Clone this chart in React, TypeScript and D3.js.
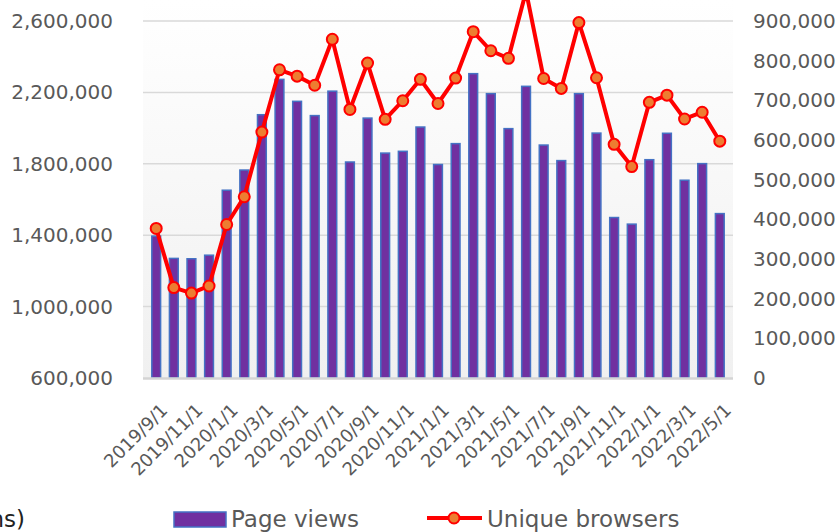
import React, { useRef, useEffect } from "react";
import * as d3 from "d3";

const months = [
  "2019/9/1", "2019/10/1", "2019/11/1", "2019/12/1", "2020/1/1", "2020/2/1",
  "2020/3/1", "2020/4/1", "2020/5/1", "2020/6/1", "2020/7/1", "2020/8/1",
  "2020/9/1", "2020/10/1", "2020/11/1", "2020/12/1", "2021/1/1", "2021/2/1",
  "2021/3/1", "2021/4/1", "2021/5/1", "2021/6/1", "2021/7/1", "2021/8/1",
  "2021/9/1", "2021/10/1", "2021/11/1", "2021/12/1", "2022/1/1", "2022/2/1",
  "2022/3/1", "2022/4/1", "2022/5/1",
];

const pageViews = [
  1395000, 1270000, 1268000, 1288000, 1652000, 1765000, 2075000, 2273000,
  2150000, 2070000, 2207000, 1810000, 2056000, 1860000, 1870000, 2006000,
  1796000, 1913000, 2305000, 2193000, 1997000, 2234000, 1905000, 1818000,
  2193000, 1972000, 1499000, 1462000, 1823000, 1971000, 1708000, 1801000,
  1521000,
];

const uniqueBrowsers = [
  377000, 228000, 214000, 232000, 387000, 457000, 620000, 777000, 761000,
  738000, 854000, 677000, 794000, 652000, 699000, 753000, 692000, 756000,
  873000, 825000, 806000, 975000, 755000, 730000, 896000, 757000, 589000,
  533000, 695000, 713000, 653000, 670000, 597000,
];

const leftTicks = [600000, 1000000, 1400000, 1800000, 2200000, 2600000];
const rightTicks = [0, 100000, 200000, 300000, 400000, 500000, 600000, 700000, 800000, 900000];

const FONT = "'DejaVu Sans', Verdana, sans-serif";
const TEXT = "#595959";

export default function App() {
  const svgRef = useRef<SVGSVGElement | null>(null);

  useEffect(() => {
    const svg = svgRef.current;
    if (!svg) return;
    const W = 840;
    const H = 532;
    const M = { l: 143, r: 733, t: 21, b: 378 };

    const sel = d3.select(svg);
    sel.selectAll("*").remove();

    const x = d3.scaleBand<string>().domain(months).range([M.l, M.r]).padding(0.5);
    const yL = d3.scaleLinear().domain([600000, 2600000]).range([M.b, M.t]);
    const yR = d3.scaleLinear().domain([0, 900000]).range([M.b, M.t]);

    const defs = sel.append("defs");
    const grad = defs
      .append("linearGradient")
      .attr("id", "bg")
      .attr("x1", 0)
      .attr("y1", 0)
      .attr("x2", 0)
      .attr("y2", 1);
    grad.append("stop").attr("offset", "0%").attr("stop-color", "#ffffff");
    grad.append("stop").attr("offset", "100%").attr("stop-color", "#f0f0f0");

    sel.append("rect").attr("width", W).attr("height", H).attr("fill", "#fff");
    sel
      .append("rect")
      .attr("x", M.l)
      .attr("y", 0)
      .attr("width", M.r - M.l)
      .attr("height", M.b)
      .attr("fill", "url(#bg)");

    // gridlines
    sel
      .append("g")
      .selectAll("line")
      .data(leftTicks.slice(1))
      .enter()
      .append("line")
      .attr("x1", M.l)
      .attr("x2", M.r)
      .attr("y1", (d) => yL(d))
      .attr("y2", (d) => yL(d))
      .attr("stroke", "#d9d9d9")
      .attr("stroke-width", 1.5);

    const la = sel
      .append("g")
      .attr("transform", `translate(${M.l},0)`)
      .call(d3.axisLeft(yL).tickValues(leftTicks).tickSize(0).tickPadding(30).tickFormat(d3.format(",") as any));
    la.select(".domain").remove();
    la.selectAll("text").attr("fill", TEXT).attr("font-size", 20).attr("font-family", FONT);

    const ra = sel
      .append("g")
      .attr("transform", `translate(${M.r},0)`)
      .call(d3.axisRight(yR).tickValues(rightTicks).tickSize(0).tickPadding(20).tickFormat(d3.format(",") as any));
    ra.select(".domain").remove();
    ra.selectAll("text").attr("fill", TEXT).attr("font-size", 20).attr("font-family", FONT);

    // bars
    sel
      .append("g")
      .selectAll("rect")
      .data(pageViews)
      .enter()
      .append("rect")
      .attr("x", (_, i) => x(months[i])!)
      .attr("y", (d) => yL(d))
      .attr("width", x.bandwidth())
      .attr("height", (d) => M.b - yL(d))
      .attr("fill", "#7030a0")
      .attr("stroke", "#4472c4")
      .attr("stroke-width", 1.5);

    // axis line
    sel
      .append("line")
      .attr("x1", M.l)
      .attr("x2", M.r)
      .attr("y1", M.b + 0.5)
      .attr("y2", M.b + 0.5)
      .attr("stroke", "#d4d4d4")
      .attr("stroke-width", 2.5);

    // x labels, every second month
    sel
      .append("g")
      .selectAll("text")
      .data(months.filter((_, i) => i % 2 === 0))
      .enter()
      .append("text")
      .attr("transform", (d) => `translate(${x(d)! + x.bandwidth() / 2 + 8},407) rotate(-45)`)
      .attr("text-anchor", "end")
      .attr("dy", "0.35em")
      .attr("fill", TEXT)
      .attr("font-size", 18)
      .attr("font-family", FONT)
      .text((d) => d);

    // line
    const cx = (i: number) => x(months[i])! + x.bandwidth() / 2;
    const line = d3
      .line<number>()
      .x((_, i) => cx(i))
      .y((d) => yR(d));
    sel
      .append("path")
      .datum(uniqueBrowsers)
      .attr("d", line)
      .attr("fill", "none")
      .attr("stroke", "#ff0000")
      .attr("stroke-width", 4)
      .attr("stroke-linejoin", "round");
    sel
      .append("g")
      .selectAll("circle")
      .data(uniqueBrowsers)
      .enter()
      .append("circle")
      .attr("cx", (_, i) => cx(i))
      .attr("cy", (d) => yR(d))
      .attr("r", 5.5)
      .attr("fill", "#ed7d31")
      .attr("stroke", "#ff0000")
      .attr("stroke-width", 2);

    // legend
    const lg = sel.append("g").attr("font-family", FONT).attr("font-size", 23);
    lg.append("text").attr("x", 25).attr("y", 527).attr("text-anchor", "end").attr("fill", "#222").text("(millions)");
    lg.append("rect")
      .attr("x", 174)
      .attr("y", 512)
      .attr("width", 52)
      .attr("height", 15)
      .attr("fill", "#7030a0")
      .attr("stroke", "#4472c4")
      .attr("stroke-width", 1.5);
    lg.append("text").attr("x", 231).attr("y", 527).attr("fill", TEXT).text("Page views");
    lg.append("line")
      .attr("x1", 427)
      .attr("x2", 482)
      .attr("y1", 518)
      .attr("y2", 518)
      .attr("stroke", "#ff0000")
      .attr("stroke-width", 4);
    lg.append("circle")
      .attr("cx", 454)
      .attr("cy", 518)
      .attr("r", 5.5)
      .attr("fill", "#ed7d31")
      .attr("stroke", "#ff0000")
      .attr("stroke-width", 2);
    lg.append("text").attr("x", 487).attr("y", 527).attr("fill", TEXT).text("Unique browsers");
  }, []);

  return (
    <svg
      ref={svgRef}
      width={840}
      height={532}
      style={{ position: "absolute", left: 0, top: 0, display: "block" }}
    />
  );
}
